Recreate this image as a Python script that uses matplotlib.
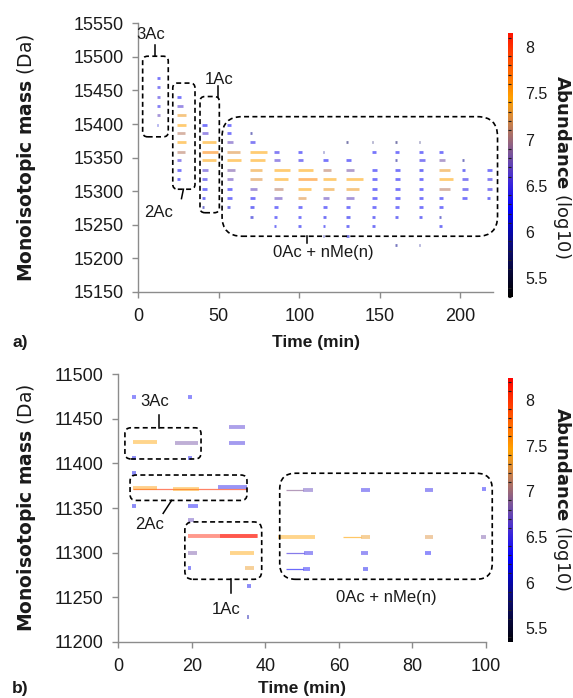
"""Mass/time feature maps for two proteoforms, coloured by log10 abundance."""

import numpy as np
import matplotlib

matplotlib.use("Agg")
import matplotlib.pyplot as plt
from matplotlib.collections import LineCollection
from matplotlib.colors import LinearSegmentedColormap, Normalize
from matplotlib.patches import FancyBboxPatch
from matplotlib.ticker import MultipleLocator

plt.rcParams["font.family"] = ["Liberation Sans", "DejaVu Sans"]
plt.rcParams["mathtext.fontset"] = "custom"
plt.rcParams["mathtext.bf"] = "DejaVu Sans:bold"
plt.rcParams["mathtext.rm"] = "DejaVu Sans"

# ---------------------------------------------------------------- panel a data
# columns of elution (start time, min) and the 14 Da methylation ladder (Da)
A_TIMES = [11.4, 23.8, 39.4, 55, 69.6, 84.1, 99.2, 114.5, 129.2, 145, 159.5, 174, 186.4, 200.9, 216.4]
A_MASS = [15469, 15455, 15441, 15427, 15413, 15399, 15387, 15373, 15359, 15346,
          15332, 15318, 15304, 15290, 15276, 15262, 15248, 15234, 15220]
# log10 abundance, 0 = not detected (rows = A_MASS, cols = A_TIMES)
A_ABUND = [
    [6.3, 0, 0, 0, 0, 0, 0, 0, 0, 0, 0, 0, 0, 0, 0],
    [6.4, 0, 0, 0, 0, 0, 0, 0, 0, 0, 0, 0, 0, 0, 0],
    [6.5, 6.3, 0, 0, 0, 0, 0, 0, 0, 0, 0, 0, 0, 0, 0],
    [6.4, 6.6, 0, 0, 0, 0, 0, 0, 0, 0, 0, 0, 0, 0, 0],
    [6.7, 7.35, 0, 0, 0, 0, 0, 0, 0, 0, 0, 0, 0, 0, 0],
    [6.1, 7.45, 6.3, 6.3, 0, 0, 0, 0, 0, 0, 0, 0, 0, 0, 0],
    [0, 7.1, 6.6, 6.3, 5.9, 0, 0, 0, 0, 0, 0, 0, 0, 0, 0],
    [0, 7.45, 7.45, 6.7, 6.4, 0, 0, 0, 5.8, 5.8, 5.8, 5.8, 0, 0, 0],
    [0, 7.1, 7.6, 7.25, 7.45, 6.4, 6.3, 5.9, 0, 6.3, 6.3, 6.3, 6.3, 0, 0],
    [0, 6.5, 7.45, 7.45, 7.45, 6.6, 6.4, 6.3, 6.3, 0, 5.9, 6.4, 6.8, 5.9, 0],
    [0, 6.3, 6.6, 6.8, 7.35, 7.45, 7.45, 7.1, 6.8, 6.3, 6.3, 6.2, 7.35, 6.2, 6.3],
    [0, 6.2, 6.4, 6.7, 7.25, 7.45, 7.6, 7.45, 7.45, 6.3, 6.3, 6.3, 7.45, 6.4, 6.4],
    [0, 0, 6.3, 6.3, 6.7, 7.1, 7.45, 7.35, 7.35, 6.3, 6.3, 6.3, 7.1, 6.4, 6.4],
    [0, 0, 6.2, 6.3, 6.3, 6.7, 7.25, 6.7, 6.7, 6.3, 6.3, 6.3, 6.3, 6.3, 6.2],
    [0, 0, 6.0, 6.1, 6.2, 6.3, 6.3, 6.3, 6.3, 6.3, 6.3, 6.3, 6.3, 0, 0],
    [0, 0, 0, 0, 6.1, 6.3, 6.3, 6.2, 6.2, 6.2, 6.2, 6.2, 6.0, 0, 0],
    [0, 0, 0, 0, 0, 6.2, 6.2, 6.2, 6.2, 6.2, 0, 0, 6.2, 0, 0],
    [0, 0, 0, 0, 0, 0, 0, 6.0, 6.1, 0, 0, 0, 0, 0, 0],
    [0, 0, 0, 0, 0, 0, 0, 0, 0, 0, 5.9, 5.9, 0, 0, 0],
]
# elution duration (min) of each feature
A_DUR = [
    [2, 0, 0, 0, 0, 0, 0, 0, 0, 0, 0, 0, 0, 0, 0],
    [2, 0, 0, 0, 0, 0, 0, 0, 0, 0, 0, 0, 0, 0, 0],
    [2, 3, 0, 0, 0, 0, 0, 0, 0, 0, 0, 0, 0, 0, 0],
    [2, 4, 0, 0, 0, 0, 0, 0, 0, 0, 0, 0, 0, 0, 0],
    [2, 6, 0, 0, 0, 0, 0, 0, 0, 0, 0, 0, 0, 0, 0],
    [1, 6, 3, 2.5, 0, 0, 0, 0, 0, 0, 0, 0, 0, 0, 0],
    [0, 5, 4, 2.5, 1, 0, 0, 0, 0, 0, 0, 0, 0, 0, 0],
    [0, 6, 9, 4, 3, 0, 0, 0, 1, 1, 1, 1, 0, 0, 0],
    [0, 5, 10, 8, 10, 3, 2.5, 1, 0, 2.5, 2.5, 2.5, 2.5, 0, 0],
    [0, 3, 9, 9, 9, 4, 3, 3, 3, 0, 1, 4, 4, 1, 0],
    [0, 2.5, 4, 5, 7, 10, 9, 5, 5, 3, 3, 3, 7, 2, 3],
    [0, 2, 3, 4, 7, 9, 12, 8, 10, 3, 3, 3, 9, 4, 3],
    [0, 0, 3, 3, 4, 6, 8, 7, 8, 3, 3, 3, 7, 4, 3],
    [0, 0, 2, 3, 3, 5, 5, 4, 5, 3, 3, 3, 3, 3, 2],
    [0, 0, 1.5, 2, 2, 2.5, 2.5, 2.5, 2.5, 2.5, 2.5, 2.5, 2.5, 0, 0],
    [0, 0, 0, 0, 1.5, 2, 2, 2, 2, 2, 2, 2, 1.5, 0, 0],
    [0, 0, 0, 0, 0, 1.5, 1.5, 1.5, 1.5, 2, 0, 0, 2, 0, 0],
    [0, 0, 0, 0, 0, 0, 0, 1, 1.5, 0, 0, 0, 0, 0, 0],
    [0, 0, 0, 0, 0, 0, 0, 0, 0, 0, 1, 1, 0, 0, 0],
]

# acetylation groups: label, box (t0, t1, m0, m1), leader (t, m) -> (t, m), label position
A_GROUPS = ["3Ac", "2Ac", "1Ac", "0Ac + nMe(n)"]
A_BOX_T = [(2.7, 18.6), (21.4, 35.2), (38.3, 50.3), (52.0, 223.0)]
A_BOX_M = [(15381, 15501), (15303, 15461), (15268, 15441), (15233, 15411)]
A_LEAD_T = [(10.4, 10.4), (28.0, 26.8), (49.7, 49.7), (105.0, 105.0)]
A_LEAD_M = [(15501, 15517), (15303, 15289), (15441, 15456), (15233, 15223)]
A_TEXT_T = [7.8, 12.3, 50.2, 115.0]
A_TEXT_M = [15533, 15268, 15467, 15209]

# ---------------------------------------------------------------- panel b data
B_T0 = [3.8, 19.0, 4.0, 15.4, 30.0, 30.0, 3.8, 19.0, 3.8,
        3.9, 15.0, 27.0, 3.8, 19.0, 19.0,
        18.9, 27.6, 19.0, 30.4, 19.0, 34.5, 35.0, 35.0,
        50.2, 66.0, 83.3, 99.0, 43.4, 66.0, 83.3, 98.7, 50.5, 66.0, 83.3, 50.2, 66.5]
B_T1 = [4.8, 20.0, 10.5, 21.7, 34.5, 34.5, 4.8, 20.0, 4.8,
        10.4, 22.0, 35.0, 4.8, 21.7, 20.5,
        38.0, 37.6, 21.5, 37.0, 19.8, 37.0, 36.0, 35.6,
        52.9, 68.4, 85.5, 100.5, 53.4, 68.4, 85.5, 100.5, 53.0, 68.0, 85.0, 52.1, 68.0]
B_MASS = [11475, 11475, 11423.5, 11423, 11440.5, 11423, 11406, 11406, 11389,
          11372, 11371, 11373, 11352, 11352.5, 11336,
          11318.5, 11319, 11300, 11300, 11283, 11283, 11262, 11228,
          11370, 11370, 11370, 11371, 11318, 11318, 11318, 11318, 11300, 11300, 11300, 11282, 11282]
B_ABUND = [6.3, 6.3, 7.45, 6.8, 6.6, 6.5, 6.2, 6.2, 6.2,
           7.5, 7.45, 6.4, 6.2, 6.3, 6.7,
           8.1, 8.2, 6.8, 7.45, 6.2, 7.35, 6.2, 6.0,
           6.7, 6.4, 6.4, 6.3, 7.45, 7.35, 7.25, 6.8, 6.4, 6.4, 6.3, 6.3, 6.2]
# thin elution traces
B_TRACE_T0 = [3.9, 45.6, 61.0, 45.6, 45.6]
B_TRACE_T1 = [35.0, 50.2, 66.0, 50.5, 50.2]
B_TRACE_MASS = [11371, 11370, 11318, 11300, 11282]
B_TRACE_ABUND = [8.0, 6.9, 7.45, 6.5, 6.3]

B_GROUPS = ["3Ac", "2Ac", "1Ac", "0Ac + nMe(n)"]
B_BOX_T = [(1.8, 22.5), (3.2, 35.0), (18.1, 39.0), (43.9, 101.7)]
B_BOX_M = [(11405, 11440), (11358.5, 11387), (11270, 11334.4), (11270, 11389)]
B_LEAD_T = [(11.1, 11.1), (14.5, 12.2), (30.6, 30.6), None]
B_LEAD_M = [(11440, 11454), (11358.5, 11344), (11270, 11255), None]
B_TEXT_T = [10.0, 8.4, 29.2, 72.8]
B_TEXT_M = [11469, 11331, 11236, 11250]

# abundance colour scale (log10)
CMAP_LEVELS = [5.30, 5.80, 6.25, 6.60, 6.85, 7.05, 7.25, 7.45, 7.80, 8.25]
CMAP_COLORS = ["#000000", "#0c0c6a", "#0000ff", "#4a30d0", "#7a559a", "#a86f6a",
               "#dc8c38", "#ffa200", "#ff5a00", "#ff0000"]
VMIN, VMAX = CMAP_LEVELS[0], CMAP_LEVELS[-1]
NORM = Normalize(VMIN, VMAX)
CMAP = LinearSegmentedColormap.from_list(
    "abund", [((v - VMIN) / (VMAX - VMIN), c) for v, c in zip(CMAP_LEVELS, CMAP_COLORS)]
)

GREY = "#8c8c8c"
TXT = "#1a1a1a"


def add_segments(ax, t0, t1, mass, abund, lw, alpha):
    order = np.argsort(abund)
    segs = [[(t0[i], mass[i]), (t1[i], mass[i])] for i in order]
    cols = [CMAP(NORM(abund[i])) for i in order]
    lc = LineCollection(segs, colors=cols, linewidths=lw, alpha=alpha, capstyle="butt")
    ax.add_collection(lc)


def add_groups(ax, names, box_t, box_m, lead_t, lead_m, text_t, text_m, radii):
    bb = ax.get_window_extent()
    x0, x1 = ax.get_xlim()
    y0, y1 = ax.get_ylim()
    sx = bb.width / (x1 - x0)
    sy = bb.height / (y1 - y0)
    for k, name in enumerate(names):
        (ta, tb), (ma, mb) = box_t[k], box_m[k]
        patch = FancyBboxPatch(
            (ta, ma), tb - ta, mb - ma,
            boxstyle=f"round,pad=0,rounding_size={radii[k] / sx}",
            mutation_aspect=sx / sy,
            fill=False, edgecolor="black", linewidth=1.2,
            linestyle=(0, (3, 2)), clip_on=False, zorder=4,
        )
        ax.add_patch(patch)
        if lead_t[k] is not None:
            ax.plot(lead_t[k], lead_m[k], color="black", lw=1.1, clip_on=False, zorder=4)
        ax.text(text_t[k], text_m[k], name, ha="center", va="center", fontsize=12,
                color=TXT, zorder=5)


def style_axes(ax, xlim, ylim, xstep, ystep):
    ax.set_xlim(*xlim)
    ax.set_ylim(*ylim)
    ax.xaxis.set_major_locator(MultipleLocator(xstep))
    ax.yaxis.set_major_locator(MultipleLocator(ystep))
    for side in ("top", "right"):
        ax.spines[side].set_visible(False)
    for side in ("left", "bottom"):
        ax.spines[side].set_color(GREY)
        ax.spines[side].set_linewidth(1.0)
    ax.tick_params(direction="out", length=4.5, width=1.0, color=GREY,
                   labelsize=13, labelcolor=TXT, pad=6)
    ax.tick_params(axis="x", pad=7)


def add_colorbar(fig, rect, lo, hi):
    cax = fig.add_axes(rect)
    grad = np.linspace(lo, hi, 512)[:, None]
    cax.imshow(grad, extent=[0, 1, lo, hi], origin="lower", aspect="auto",
               cmap=CMAP, norm=NORM)
    cax.set_xticks([])
    cax.set_ylim(lo, hi)
    cax.yaxis.tick_right()
    cax.set_yticks([5.5, 6, 6.5, 7, 7.5, 8])
    cax.set_yticklabels(["5.5", "6", "6.5", "7", "7.5", "8"])
    cax.yaxis.set_minor_locator(MultipleLocator(0.1))
    cax.tick_params(which="major", right=True, left=True, length=0, labelsize=11.5,
                    labelcolor=TXT, pad=9)
    cax.tick_params(which="minor", left=True, right=False, direction="in",
                    length=2.2, width=0.8, color="#202020")
    for s in cax.spines.values():
        s.set_visible(False)
    return cax


fig = plt.figure(figsize=(5.73, 6.98), dpi=100)
W, H = 573, 698


def px_rect(left, top, right, bottom):
    return [left / W, 1 - bottom / H, (right - left) / W, (bottom - top) / H]


# ---------------------------------------------------------------- panel a
ax_a = fig.add_axes(px_rect(138.3, 23.3, 492.7, 292.0))
style_axes(ax_a, (0, 220), (15150, 15550), 50, 50)
a_t0, a_t1, a_m, a_z = [], [], [], []
for i, m in enumerate(A_MASS):
    for j, t in enumerate(A_TIMES):
        if A_ABUND[i][j] > 0:
            a_t0.append(t)
            a_t1.append(t + A_DUR[i][j])
            a_m.append(m)
            a_z.append(A_ABUND[i][j])
add_segments(ax_a, a_t0, a_t1, a_m, np.array(a_z), lw=2.0, alpha=0.55)
add_groups(ax_a, A_GROUPS, A_BOX_T, A_BOX_M, A_LEAD_T, A_LEAD_M, A_TEXT_T, A_TEXT_M,
           radii=[5, 5, 5, 20])

# ---------------------------------------------------------------- panel b
ax_b = fig.add_axes(px_rect(118.3, 374.3, 486.0, 641.7))
style_axes(ax_b, (0, 100), (11200, 11500), 20, 50)
add_segments(ax_b, B_TRACE_T0, B_TRACE_T1, B_TRACE_MASS, np.array(B_TRACE_ABUND),
             lw=0.9, alpha=0.6)
add_segments(ax_b, B_T0, B_T1, B_MASS, np.array(B_ABUND), lw=2.8, alpha=0.45)
add_groups(ax_b, B_GROUPS, B_BOX_T, B_BOX_M, B_LEAD_T, B_LEAD_M, B_TEXT_T, B_TEXT_M,
           radii=[6, 6, 8, 16])

# ---------------------------------------------------------------- colour bars
add_colorbar(fig, px_rect(508, 33, 512.5, 297), 5.3, 8.15)
add_colorbar(fig, px_rect(508, 378, 512.5, 642), 5.35, 8.24)

# ---------------------------------------------------------------- labels
ylab = r"$\bf{Monoisotopic\ mass}$ (Da)"
clab = r"$\bf{Abundance}$ (log10)"
for yc in (158, 508):
    fig.text(27 / W, 1 - yc / H, ylab, rotation=90, ha="center", va="center",
             fontsize=13.5, family="DejaVu Sans", color=TXT)
for yc in (167, 499):
    fig.text(562 / W, 1 - yc / H, clab, rotation=270, ha="center", va="center",
             fontsize=13, family="DejaVu Sans", color=TXT)
fig.text(315.5 / W, 1 - 343 / H, "Time (min)", ha="center", va="center",
         fontsize=12.5, fontweight="bold", color=TXT)
fig.text(302 / W, 1 - 688 / H, "Time (min)", ha="center", va="center",
         fontsize=12.5, fontweight="bold", color=TXT)
fig.text(20 / W, 1 - 343 / H, "a)", ha="center", va="center",
         fontsize=12.5, fontweight="bold", color=TXT)
fig.text(20 / W, 1 - 688 / H, "b)", ha="center", va="center",
         fontsize=12.5, fontweight="bold", color=TXT)

fig.savefig("out.png", dpi=100)
